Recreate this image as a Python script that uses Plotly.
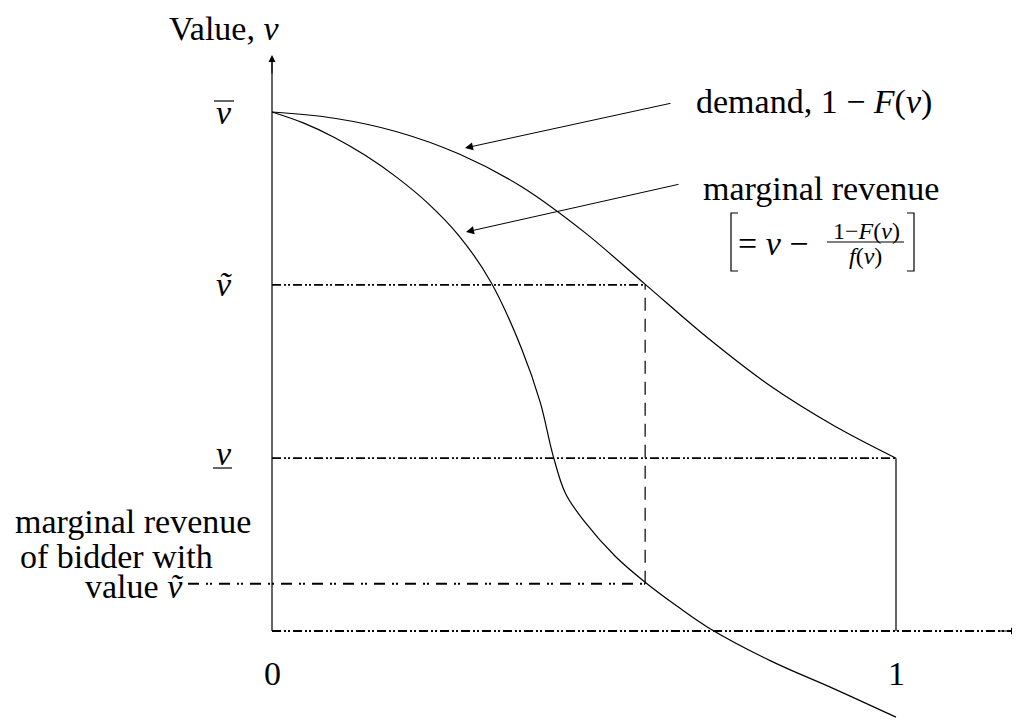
import plotly.graph_objects as go

# key levels on the value axis (v_bar = 1)
V_BAR = 1.0
V_TILDE = 0.667
V_UNDER = 0.333
MR_TILDE = 0.091   # marginal revenue of bidder with value v_tilde
Q_TILDE = 0.598    # quantity where demand = v_tilde

# demand curve 1 - F(v): quantity vs value
demand_q = [0.0, 0.1, 0.2, 0.3, 0.4, 0.5, 0.6, 0.7, 0.8, 0.9, 1.0]
demand_v = [1.0, 0.988, 0.962, 0.919, 0.856, 0.769, 0.666, 0.563, 0.471, 0.396, 0.333]

# marginal revenue curve
mr_q = [0.0, 0.05, 0.1, 0.15, 0.2, 0.25, 0.3, 0.35, 0.4, 0.43, 0.45, 0.47, 0.5,
        0.55, 0.6, 0.65, 0.7, 0.8, 0.9, 1.0]
mr_v = [1.0, 0.979, 0.951, 0.916, 0.874, 0.824, 0.761, 0.674, 0.544, 0.440, 0.340,
        0.266, 0.212, 0.144, 0.092, 0.047, 0.006, -0.058, -0.111, -0.166]

x_ticks = [0, 1]
x_tick_labels = ["0", "1"]

W, H = 1020, 720
OFF = 8  # page body margin
FONT = "Liberation Serif, DejaVu Serif, serif"


# pixel -> data helpers, only used to place labels and decorations
def px(x):
    return (x - 272) / 624.0


def py(y):
    return (631 - y) / 519.0


fig = go.Figure()

dashdot = "9px,3px,2px,2px,2px,3px"

# axes
fig.add_trace(go.Scatter(x=[0, 0], y=[0, py(58)], mode="lines",
                         line=dict(color="black", width=1.2), hoverinfo="skip"))
fig.add_trace(go.Scatter(x=[0, px(1014)], y=[0, 0], mode="lines",
                         line=dict(color="black", width=1.8, dash=dashdot),
                         hoverinfo="skip"))

# guide lines
fig.add_trace(go.Scatter(x=[0, Q_TILDE], y=[V_TILDE, V_TILDE], mode="lines",
                         line=dict(color="black", width=1.8, dash=dashdot),
                         hoverinfo="skip"))
fig.add_trace(go.Scatter(x=[0, 1], y=[V_UNDER, V_UNDER], mode="lines",
                         line=dict(color="black", width=1.8, dash=dashdot),
                         hoverinfo="skip"))
fig.add_trace(go.Scatter(x=[1, 1], y=[0, V_UNDER], mode="lines",
                         line=dict(color="black", width=1.2), hoverinfo="skip"))
fig.add_trace(go.Scatter(x=[Q_TILDE, Q_TILDE], y=[MR_TILDE, V_TILDE], mode="lines",
                         line=dict(color="black", width=1.2, dash="13px,8px"),
                         hoverinfo="skip"))
fig.add_trace(go.Scatter(x=[px(188), Q_TILDE], y=[MR_TILDE, MR_TILDE], mode="lines",
                         line=dict(color="black", width=1.8, dash="11px,7px,2px,2px,2px,7px"),
                         hoverinfo="skip"))

# curves
fig.add_trace(go.Scatter(x=demand_q, y=demand_v, mode="lines",
                         line=dict(color="black", width=1.2, shape="spline", smoothing=1.0),
                         name="demand"))
fig.add_trace(go.Scatter(x=mr_q, y=mr_v, mode="lines",
                         line=dict(color="black", width=1.2, shape="spline", smoothing=1.0),
                         name="marginal revenue"))

ann = []


def txt(x, y, s, size=34, xanchor="center"):
    ann.append(dict(x=x, y=y, xref="x", yref="y", text=s, showarrow=False,
                    xanchor=xanchor, yanchor="middle",
                    font=dict(family=FONT, size=size, color="black")))


txt(px(224), py(28), "Value, <i>v</i>")
txt(px(224), V_BAR, "<i>v</i>")
txt(px(224), V_TILDE, "<i>ṽ</i>")
txt(px(224), py(453), "<i>v</i>")
for t, lab in zip(x_ticks, x_tick_labels):
    txt(t, py(673), lab)

txt(px(814), py(102), "demand, 1 − <i>F</i>(<i>v</i>)")
txt(px(821), py(188), "marginal revenue")
txt(px(736), py(243), "= <i>v</i> −", xanchor="left")
txt(px(866), py(231), "1−<i>F</i>(<i>v</i>)", size=24)
txt(px(865), py(256), "<i>f</i>(<i>v</i>)", size=24)

txt(px(13), py(521), "marginal revenue", xanchor="left")
txt(px(18), py(556), "of bidder with", xanchor="left")
txt(px(185), py(586), "value <i>ṽ</i>", xanchor="right")

# pointer arrows
for tip, tail in [((px(465), py(148)), (px(672), py(103))),
                  ((px(466), py(232)), (px(680), py(184)))]:
    ann.append(dict(x=tip[0], y=tip[1], ax=tail[0], ay=tail[1], xref="x", yref="y",
                    axref="x", ayref="y", text="", showarrow=True, arrowhead=2,
                    arrowsize=1.6, arrowwidth=1, arrowcolor="black"))

# axis arrow heads
ann.append(dict(x=0, y=py(55), ax=0, ay=py(75), xref="x", yref="y", axref="x", ayref="y",
                text="", showarrow=True, arrowhead=2, arrowsize=1.4, arrowwidth=1,
                arrowcolor="black"))
ann.append(dict(x=px(1018), y=0, ax=px(998), ay=0, xref="x", yref="y", axref="x", ayref="y",
                text="", showarrow=True, arrowhead=2, arrowsize=1.4, arrowwidth=1,
                arrowcolor="black"))

line = dict(color="black", width=1.2)
shapes = [
    # bar over v, bar under v
    dict(type="line", x0=px(214), x1=px(234), y0=py(101), y1=py(101), line=line),
    dict(type="line", x0=px(213), x1=px(232), y0=py(468), y1=py(468), line=line),
    # fraction bar
    dict(type="line", x0=px(827), x1=px(904), y0=py(242), y1=py(242), line=line),
    # square brackets
    dict(type="path", path="M %f,%f L %f,%f L %f,%f L %f,%f" % (
        px(738), py(213), px(731), py(213), px(731), py(271), px(738), py(271)), line=line),
    dict(type="path", path="M %f,%f L %f,%f L %f,%f L %f,%f" % (
        px(907), py(213), px(914), py(213), px(914), py(271), px(907), py(271)), line=line),
]

fig.update_layout(
    width=W, height=H, autosize=False,
    margin=dict(l=0, r=0, t=0, b=0),
    paper_bgcolor="white", plot_bgcolor="white",
    showlegend=False,
    xaxis=dict(range=[px(OFF), px(W + OFF)], visible=False, fixedrange=True),
    yaxis=dict(range=[py(H + OFF), py(OFF)], visible=False, fixedrange=True),
    annotations=ann,
    shapes=shapes,
)

fig.write_html("out.html")
